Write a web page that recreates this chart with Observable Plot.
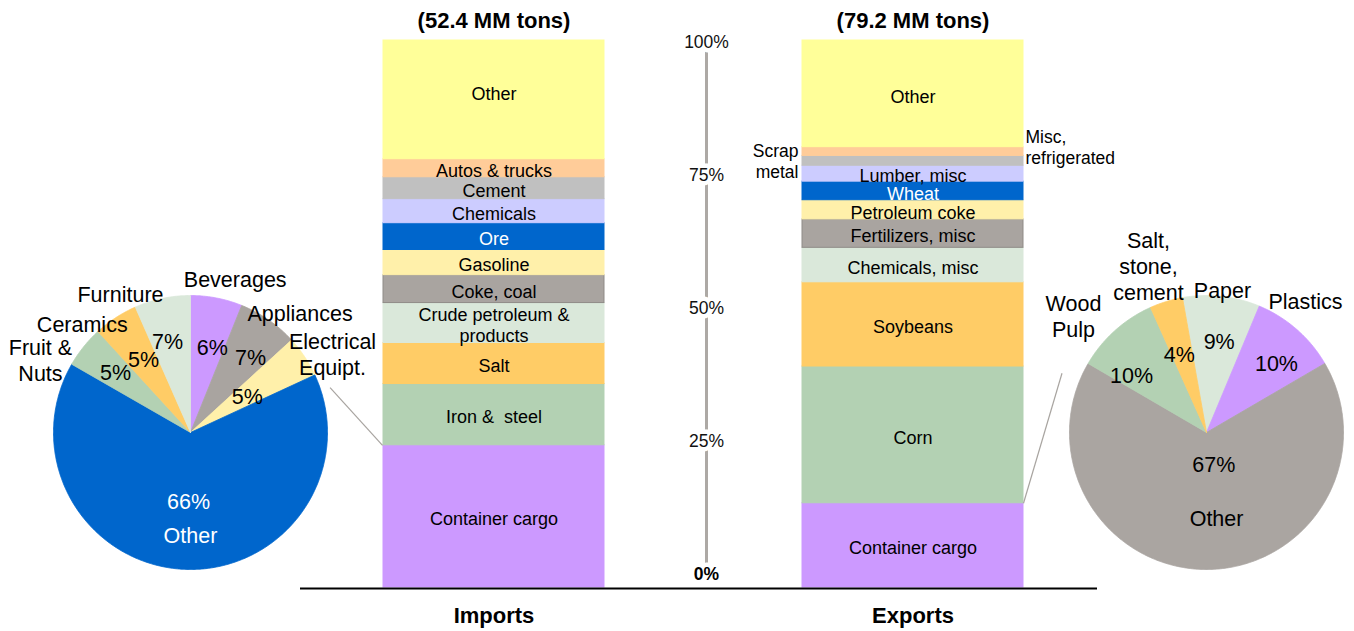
<!DOCTYPE html>
<html><head><meta charset="utf-8">
<script src="https://cdn.jsdelivr.net/npm/d3@7"></script>
<script src="https://cdn.jsdelivr.net/npm/@observablehq/plot@0.6"></script>
<style>
body{margin:0;background:#fff;}
#chart{width:1354px;height:631px;font-family:"Liberation Sans",Arial,sans-serif;}
#root{display:block;overflow:visible;}
#root svg{overflow:visible;max-width:none;background:transparent;}
</style></head><body><div id="chart"></div>
<script>
// ---------------- data ----------------
const barGroups = ["Imports", "Exports"];
const barTotals = ["(52.4 MM tons)", "(79.2 MM tons)"];
const importCategories = ["Container cargo", "Iron &  steel", "Salt", "Crude petroleum &\nproducts", "Coke, coal", "Gasoline", "Ore", "Chemicals", "Cement", "Autos & trucks", "Other"];
const importShares = [26.0, 11.2, 7.5, 7.3, 5.1, 4.6, 4.9, 4.4, 4.0, 3.3, 21.7];
const exportCategories = ["Container cargo", "Corn", "Soybeans", "Chemicals, misc", "Fertilizers, misc", "Petroleum coke", "Wheat", "Lumber, misc", "Scrap\nmetal", "Misc,\nrefrigerated", "Other"];
const exportShares = [15.4, 25.0, 15.4, 6.3, 5.2, 3.5, 3.4, 2.9, 1.8, 1.6, 19.5];
const axisTicks = [0, 25, 50, 75, 100];

const importPieLabels = ["Beverages", "Appliances", "Electrical\nEquipt.", "Other", "Fruit &\nNuts", "Ceramics", "Furniture"];
const importPieShares = [6.1, 7.1, 4.9, 65.2, 4.9, 5.2, 6.6];
const importPiePct = ["6%", "7%", "5%", "66%", "5%", "5%", "7%"];

const exportPieLabels = ["Paper", "Plastics", "Other", "Wood\nPulp", "Salt,\nstone,\ncement"];
const exportPieShares = [9.1, 10.3, 66.8, 9.9, 3.9];
const exportPiePct = ["9%", "10%", "67%", "10%", "4%"];

// ---------------- styles / layout ----------------
const FONT = '"Liberation Sans", Arial, sans-serif';
const levelPalette = ["#CC99FF", "#B3D1B3", "#FFCC66", "#DAE8DA", "#A9A4A0", "#FFF0AA", "#0066CC", "#CCCCFF", "#C0C0C0", "#FFCC99", "#FFFF99"];
const pieColors = {
  "Beverages": "#CC99FF", "Appliances": "#A9A4A0", "Electrical\nEquipt.": "#FFF0AA", "Other": "#0066CC",
  "Fruit &\nNuts": "#B3D1B3", "Ceramics": "#FFCC66", "Furniture": "#DAE8DA"
};
const pieColorsR = {
  "Paper": "#DAE8DA", "Plastics": "#CC99FF", "Other": "#AAA5A1", "Wood\nPulp": "#B3D1B3", "Salt,\nstone,\ncement": "#FFCC66"
};
// label placement: angle shift from slice middle (deg) and radius factor
const lNameShift = [5.2, 7.7, 4.6, -2.5, -12.75, -11.6, -14.9];
const lNameRad = [1.171, 1.185, 1.186, 0.747, 1.218, 1.123, 1.134];
const lPctShift = [3.4, 4.2, 1.8, -0.9, -0.4, 0, -2.4];
const lPctRad = [0.638, 0.697, 0.488, 0.509, 0.698, 0.628, 0.68];
const rNameShift = [0.1, -4.3, -6.7, -6.7, -2.05];
const rNameRad = [1.05, 1.204, 0.627, 1.293, 1.29];
const rPctShift = [1.7, 4.3, -12.5, -11.3, -2.4];
const rPctRad = [0.666, 0.716, 0.247, 0.683, 0.596];

const NS = "http://www.w3.org/2000/svg";
const root = document.createElementNS(NS, "svg");
root.setAttribute("id", "root");
root.setAttribute("width", 1354);
root.setAttribute("height", 631);
root.setAttribute("viewBox", "0 0 1354 631");
document.getElementById("chart").appendChild(root);
function place(svg, left) {
  svg.setAttribute("x", left);
  svg.setAttribute("y", 0);
  root.appendChild(svg);
}

// ---------------- stacked bars ----------------
const rows = [];
barGroups.forEach((g, gi) => {
  const cats = gi ? exportCategories : importCategories;
  const vals = gi ? exportShares : importShares;
  let acc = 0;
  cats.forEach((c, i) => { rows.push({group: g, category: c, share: vals[i], level: i, mid: acc + vals[i] / 2}); acc += vals[i]; });
});
const isLeftSide = d => d.category === "Scrap\nmetal";
const isRightSide = d => d.category === "Misc,\nrefrigerated";
const isTopOther = d => d.group === "Imports" && d.category === "Other";
const centreRows = rows.filter(d => !isLeftSide(d) && !isRightSide(d) && !isTopOther(d));

const xOpts = {type: "band", domain: barGroups, range: [382, 1023], paddingInner: 0.4735, paddingOuter: 0, axis: null};
const yOpts = {domain: [0, 100], range: [587, 40], axis: null};
const xS = Plot.scale({x: xOpts});
const half = xS.bandwidth / 2;

const bars = Plot.plot({
  width: 1354, height: 631, margin: 0,
  x: xOpts, y: yOpts,
  color: {type: "identity"},
  style: {fontFamily: FONT, background: "transparent", overflow: "visible"},
  marks: [
    Plot.barY(rows, Plot.stackY({x: "group", y: "share", fill: d => levelPalette[d.level],
      stroke: d => d.level === 4 ? "#8F8B87" : levelPalette[d.level], strokeWidth: 1})),
    Plot.text(centreRows, {x: "group", y: "mid", text: "category",
      fill: d => d.level === 6 ? "white" : "black", dy: 2, fontSize: 18, lineHeight: 1.17}),
    Plot.text(rows.filter(isTopOther), {x: "group", y: "mid", text: "category", fill: "black", dy: -6, fontSize: 18}),
    Plot.text(rows.filter(isLeftSide), {x: "group", y: "mid", text: "category",
      textAnchor: "end", dx: -half - 4, fontSize: 17.5, lineHeight: 1.2, fill: "black"}),
    Plot.text(rows.filter(isRightSide), {x: "group", y: "mid", text: "category",
      textAnchor: "start", dx: half + 2, dy: -5, fontSize: 17.5, lineHeight: 1.2, fill: "black"}),
    Plot.text(barGroups, {x: d => d, y: 100, text: (d, i) => barTotals[i], dy: -20, fontSize: 22, fontWeight: "bold", fill: "black"}),
    Plot.text(barGroups, {x: d => d, y: 0, text: d => d, dy: 28, fontSize: 22, fontWeight: "bold", fill: "black"})
  ]
});
place(bars, 0);

// ---------------- centre percentage axis ----------------
const axis = Plot.plot({
  width: 60, height: 631, margin: 0,
  x: {domain: [0, 1], range: [0, 60], axis: null},
  y: {domain: [0, 100], range: [574, 41.5], axis: null},
  style: {fontFamily: FONT, background: "transparent", overflow: "visible"},
  marks: [
    Plot.ruleX([0.5], {y1: 0, y2: 100, stroke: "#ADA9A5", strokeWidth: 3}),
    Plot.text(axisTicks.filter(t => t !== 0), {x: 0.5, y: d => d, text: d => d + "%", fontSize: 17.5, fill: "#111", stroke: "white", strokeWidth: 9, paintOrder: "stroke"}),
    Plot.text(axisTicks.filter(t => t === 0), {x: 0.5, y: d => d, text: d => d + "%", fontSize: 17.5, fontWeight: "bold", fill: "black", stroke: "white", strokeWidth: 9, paintOrder: "stroke"})
  ]
});
place(axis, 676);

// ---------------- pies ----------------
const deg = Math.PI / 180;
function pieData(names, shares, startDeg) {
  const arcs = d3.pie().sort(null).value(d => d).startAngle(startDeg * deg).endAngle((startDeg + 360) * deg)(shares);
  const pts = [];
  arcs.forEach((a, i) => {
    pts.push({name: names[i], px: 0, py: 0});
    const n = Math.max(2, Math.ceil((a.endAngle - a.startAngle) / (0.5 * deg)));
    for (let k = 0; k <= n; k++) {
      const t = a.startAngle + (a.endAngle - a.startAngle) * k / n;
      pts.push({name: names[i], px: Math.sin(t), py: Math.cos(t)});
    }
    pts.push({name: names[i], px: 0, py: 0});
  });
  const mids = arcs.map(a => (a.startAngle + a.endAngle) / 2);
  return {pts, mids};
}
function polar(mid, shiftDeg, r) {
  const t = mid + shiftDeg * deg;
  return {px: r * Math.sin(t), py: r * Math.cos(t)};
}
function makePie({names, shares, pcts, startDeg, colors, nameShift, nameRad, pctShift, pctRad, left, width, xRange, whiteIdx}) {
  const {pts, mids} = pieData(names, shares, startDeg);
  const nameLab = names.map((n, i) => ({text: n, i, ...polar(mids[i], nameShift[i], nameRad[i])}));
  const pctLab = pcts.map((p, i) => ({text: p, i, ...polar(mids[i], pctShift[i], pctRad[i])}));
  const svg = Plot.plot({
    width, height: 631, margin: 0,
    x: {domain: [-1, 1], range: xRange, axis: null},
    y: {domain: [-1, 1], range: [569, 295], axis: null},
    color: {type: "identity"},
    style: {fontFamily: FONT, background: "transparent", overflow: "visible"},
    marks: [
      Plot.line(pts, {x: "px", y: "py", z: "name", fill: d => colors[d.name], stroke: d => colors[d.name], strokeWidth: 0.8, curve: "linear"}),
      Plot.text(nameLab, {x: "px", y: "py", text: "text", fontSize: 21.5, lineHeight: 1.22, fill: d => d.i === whiteIdx ? "white" : "black"}),
      Plot.text(pctLab, {x: "px", y: "py", text: "text", fontSize: 21.5, fill: d => d.i === whiteIdx ? "white" : "black"})
    ]
  });
  place(svg, left);
  return {x: Plot.scale({x: {domain: [-1, 1], range: xRange}}), y: Plot.scale({y: {domain: [-1, 1], range: [569, 295]}}), left};
}

const pieL = makePie({names: importPieLabels, shares: importPieShares, pcts: importPiePct, startDeg: 0, colors: pieColors,
  nameShift: lNameShift, nameRad: lNameRad, pctShift: lPctShift, pctRad: lPctRad, left: 0, width: 400, xRange: [53, 327], whiteIdx: 3});
const pieR = makePie({names: exportPieLabels, shares: exportPieShares, pcts: exportPiePct, startDeg: -10.1, colors: pieColorsR,
  nameShift: rNameShift, nameRad: rNameRad, pctShift: rPctShift, pctRad: rPctRad, left: 1030, width: 324, xRange: [39, 313], whiteIdx: -1});

// ---------------- connectors & baseline ----------------
const yS = Plot.scale({y: yOpts});
const connL = {a: 72.2 * deg, r: 1.07};
const connR = {a: -67.7 * deg, r: 1.14};
const links = [
  {x1: pieL.left + pieL.x.apply(connL.r * Math.sin(connL.a)), y1: pieL.y.apply(connL.r * Math.cos(connL.a)),
   x2: xS.apply("Imports"), y2: yS.apply(importShares[0])},
  {x1: xS.apply("Exports") + xS.bandwidth, y1: yS.apply(exportShares[0]),
   x2: pieR.left + pieR.x.apply(connR.r * Math.sin(connR.a)), y2: pieR.y.apply(connR.r * Math.cos(connR.a))}
];
const overlay = Plot.plot({
  width: 1354, height: 631, margin: 0,
  x: {type: "identity", axis: null}, y: {type: "identity", axis: null},
  style: {background: "transparent", overflow: "visible"},
  marks: [
    Plot.link(links, {x1: "x1", y1: "y1", x2: "x2", y2: "y2", stroke: "#A8A4A0", strokeWidth: 1.2}),
    Plot.ruleY([yS.apply(0) + 1], {x1: xS.apply("Imports") - 82, x2: xS.apply("Exports") + xS.bandwidth + 74, stroke: "black", strokeWidth: 2})
  ]
});
place(overlay, 0);
</script>
</body></html>
